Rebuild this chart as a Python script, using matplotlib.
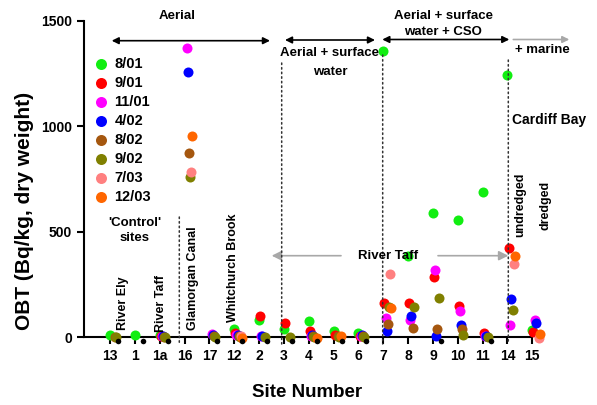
import numpy as np
import matplotlib
matplotlib.use("Agg")
import matplotlib.pyplot as plt
from matplotlib.transforms import IdentityTransform

plt.rcParams['font.family'] = ['Liberation Sans', 'DejaVu Sans']
plt.rcParams['font.weight'] = 'bold'

nan = np.nan
sites = ["13", "1", "1a", "16", "17", "12", "2", "3", "4", "5", "6",
         "7", "8", "9", "10", "11", "14", "15"]

s_0801 = [12, 12, 12, nan, nan, 38, 83, 40, 75, 32, 20, 1356, 385, 588, 555, 688, 1242, 35]
s_0901 = [nan, nan, 8, nan, nan, 20, 102, 68, 28, 12, 8, 164, 161, 287, 147, 22, 425, 27]
s_1101 = [nan, nan, 6, 1369, 14, 12, 8, nan, 8, nan, 8, 90, 82, 318, 126, 8, 56, 82]
s_0402 = [nan, nan, 8, 1258, 12, 10, 7, nan, 10, nan, 10, 30, 101, 4, 60, 7, 182, 66]
s_0802 = [3, nan, 3, 872, 4, 5, nan, nan, 5, 5, 4, 62, 46, 39, 39, nan, nan, nan]
s_0902 = [0, nan, 0, 758, 0, 0, 0, 0, 0, 0, 0, 145, 142, 187, 12, 3, 131, nan]
s_0703 = [nan, nan, nan, 782, nan, 8, nan, nan, nan, nan, nan, 300, nan, nan, nan, nan, 345, -2]
s_1203 = [nan, nan, nan, 956, nan, -2, nan, nan, -2, 7, nan, 138, nan, nan, nan, nan, 385, 14]
s_black = [-18, -18, -18, nan, -18, -18, -18, -18, -18, -18, -18, nan, nan, -18, nan, -18, nan, nan]

series_labels = ["8/01", "9/01", "11/01", "4/02", "8/02", "9/02", "7/03", "12/03"]
series_values = [s_0801, s_0901, s_1101, s_0402, s_0802, s_0902, s_0703, s_1203]
series_colors = ["#11EE11", "#FF0000", "#FF00FF", "#0000FF", "#A5570F",
                 "#808000", "#FF8080", "#FF6600"]

W, H = 597, 405
fig = plt.figure(figsize=(W / 100, H / 100), dpi=100)
ax = fig.add_axes([84 / W, 67.7 / H, 448.3 / W, 316.6 / H])
ax.set_xlim(-1.05, 17.0)
ax.set_ylim(0, 1500)

x = np.arange(len(sites))
handles = []
for i, (lab, vals, col) in enumerate(zip(series_labels, series_values, series_colors)):
    h = ax.scatter(x + i * 0.045, vals, s=52, color=col, linewidths=0,
                   clip_on=False, zorder=3 + i * 0.01, label=lab)
    handles.append(h)
ax.scatter(x + 0.32, s_black, s=16, color="black", linewidths=0,
           clip_on=False, zorder=3.2)

for sp in ["top", "right"]:
    ax.spines[sp].set_visible(False)
for sp in ["left", "bottom"]:
    ax.spines[sp].set_linewidth(1.5)
ax.set_xticks(x)
ax.set_xticklabels(sites)
ax.set_yticks([0, 500, 1000, 1500])
ax.tick_params(axis="both", direction="out", length=5, width=1.5,
               labelsize=10, pad=3.5)
for t in ax.get_xticklabels() + ax.get_yticklabels():
    t.set_fontweight("bold")

fig.text(307.5 / W, 1 - 392.7 / H, "Site Number", ha="center", va="center",
         fontsize=13.5, fontweight="bold")
fig.text(25 / W, 1 - 211 / H, "OBT (Bq/kg, dry weight)", ha="center",
         va="center", rotation=90, fontsize=15, fontweight="bold")

leg = ax.legend(handles=handles, loc="upper left",
                bbox_to_anchor=(94, H - 56.5), bbox_transform=IdentityTransform(),
                frameon=False, handlelength=1.0, handletextpad=0.4,
                borderpad=0, borderaxespad=0, labelspacing=0.35,
                prop={"weight": "bold", "size": 10.5}, scatterpoints=1,
                markerscale=1.1)


def fp(px, py):
    return (px, H - py)


def arrow(x0, x1, y, style, color="black", ms=10, lw=1.2):
    ax.annotate("", xy=fp(x1, y), xytext=fp(x0, y), xycoords="figure pixels",
                textcoords="figure pixels", annotation_clip=False,
                arrowprops=dict(arrowstyle=style, color=color, lw=lw,
                                mutation_scale=ms, shrinkA=0, shrinkB=0))


def vdot(px, y0, y1):
    ax.annotate("", xy=fp(px, y1), xytext=fp(px, y0), xycoords="figure pixels",
                textcoords="figure pixels", annotation_clip=False, zorder=5,
                arrowprops=dict(arrowstyle="-", color="#333333", lw=1.1,
                                linestyle=(0, (1, 2)), shrinkA=0, shrinkB=0))


def txt(px, py, s, size=9.5, ha="center", va="center", rot=0, color="black"):
    fig.text(px / W, 1 - py / H, s, ha=ha, va=va, rotation=rot,
             fontsize=size, fontweight="bold", color=color)


# top arrows
arrow(111.7, 270, 40.7, "<|-|>")
arrow(285, 375, 40, "<|-|>")
arrow(382.3, 509.3, 39.5, "<|-|>")
arrow(513.3, 569.3, 39.5, "-|>", color="#A8A8A8")

# River Taff grey arrow
arrow(341, 271.7, 255.7, "-|>", color="#A8A8A8", ms=14)
arrow(438, 508.3, 255.7, "-|>", color="#A8A8A8", ms=14)

# dotted lines
vdot(179.3, 217, 343)
vdot(281.7, 63, 344)
vdot(382.7, 55, 344)
vdot(508.3, 60, 344)

txt(176.7, 16, "Aerial")
txt(330, 53.3, "Aerial + surface")
txt(330, 71.7, "water")
txt(443.3, 15.7, "Aerial + surface")
txt(443.3, 31.7, "water + CSO")
txt(542.5, 50, "+ marine")
txt(511.7, 120, "Cardiff Bay", ha="left", size=10)
txt(135, 223.3, "'Control'")
txt(135, 238.3, "sites")
txt(388, 256, "River Taff")

txt(123.3, 330, "River Ely", va="bottom", rot=90, size=9)
txt(161, 331.7, "River Taff", va="bottom", rot=90, size=9)
txt(193.3, 330, "Glamorgan Canal", va="bottom", rot=90, size=9)
txt(233.3, 321.7, "Whitchurch Brook", va="bottom", rot=90, size=9)
txt(520, 237, "undredged", va="bottom", rot=90, size=9)
txt(546, 230, "dredged", va="bottom", rot=90, size=9)

fig.savefig("out.png", dpi=100)
